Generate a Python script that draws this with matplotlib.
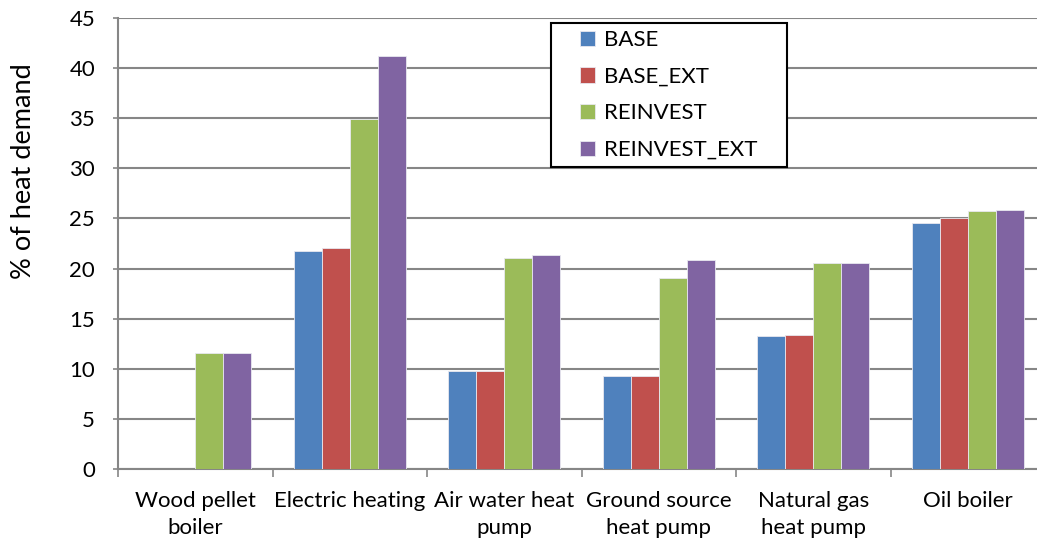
import matplotlib
matplotlib.use('Agg')
import matplotlib.pyplot as plt
import numpy as np
from matplotlib.patches import Rectangle

plt.rcParams['font.family'] = ['Lato', 'DejaVu Sans']

# 数据
categories = ['Wood pellet\nboiler', 'Electric heating', 'Air water heat\npump',
              'Ground source\nheat pump', 'Natural gas\nheat pump', 'Oil boiler']
series_names = ['BASE', 'BASE_EXT', 'REINVEST', 'REINVEST_EXT']
base = [0, 21.8, 9.8, 9.3, 13.3, 24.5]
base_ext = [0, 22.1, 9.8, 9.3, 13.4, 25.0]
reinvest = [11.6, 34.9, 21.1, 19.1, 20.6, 25.7]
reinvest_ext = [11.6, 41.2, 21.4, 20.9, 20.6, 25.8]
colors = ['#4F81BD', '#C0504D', '#9BBB59', '#8064A2']
yticks = [0, 5, 10, 15, 20, 25, 30, 35, 40, 45]

W, H = 1037, 543
fig = plt.figure(figsize=(W / 100, H / 100), dpi=100)
# 坐标区（右侧略超出画布，与原图一致）
ax = fig.add_axes([118 / W, (H - 469) / H, 927 / W, 451 / H])

x = np.arange(len(categories))
bw = 0.181
all_series = [base, base_ext, reinvest, reinvest_ext]
for i, (vals, c, name) in enumerate(zip(all_series, colors, series_names)):
    ax.bar(x + (i - 1.5) * bw, vals, width=bw, color=c, label=name,
           edgecolor='#e8e8f0', linewidth=0.6, zorder=3)

ax.set_xlim(-0.5, len(categories) - 0.5)
ax.set_ylim(0, 45)
ax.set_yticks(yticks)
ax.set_yticklabels([str(t) for t in yticks], fontsize=16)
ax.yaxis.grid(True, color='#868686', linewidth=1.5, zorder=0)
ax.set_axisbelow(True)

# x轴：类别边界处刻度，标签居中
ax.set_xticks(np.arange(len(categories) + 1) - 0.5)
ax.set_xticklabels([])
ax.set_xticks(x, minor=True)
ax.set_xticklabels(categories, minor=True, fontsize=16, linespacing=1.45)
ax.tick_params(axis='x', which='minor', length=0, pad=16)
ax.tick_params(axis='x', which='major', length=6, color='#868686', width=1.2)
ax.tick_params(axis='y', length=3.5, color='#868686', width=1.2, pad=13)

for s in ['top', 'right']:
    ax.spines[s].set_visible(False)
for s in ['left', 'bottom']:
    ax.spines[s].set_color('#868686')
    ax.spines[s].set_linewidth(1.5)

# y轴标题（原图中偏上）
fig.text(24 / W, 1 - 171 / H, '% of heat demand', rotation=90,
         fontsize=19.5, ha='center', va='center')

# 图例
leg = fig.legend(loc='upper left', bbox_to_anchor=(580 / W, 1 - 30 / H),
                 frameon=False, fontsize=16, borderpad=0, borderaxespad=0,
                 handlelength=0.68, handleheight=0.68, handletextpad=0.4,
                 labelspacing=0.75)
fig.patches.append(Rectangle((551 / W, 1 - 167 / H), 236 / W, 144 / H,
                             transform=fig.transFigure, fill=True,
                             facecolor='white', edgecolor='black',
                             linewidth=1.5, zorder=4))
leg.set_zorder(5)

fig.savefig('out.png', dpi=100)
